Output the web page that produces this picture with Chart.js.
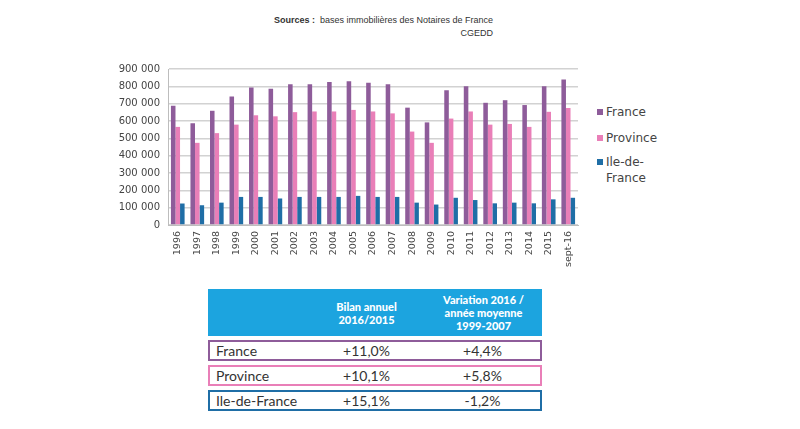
<!DOCTYPE html>
<html><head><meta charset="utf-8">
<script src="https://cdn.jsdelivr.net/npm/chart.js@4/dist/chart.umd.min.js"></script>
<style>
html,body{margin:0;padding:0;background:#fff;}
#wrap{position:relative;width:800px;height:429px;overflow:hidden;font-family:"Liberation Sans",Arial,sans-serif;}
#src{position:absolute;left:250px;top:14px;width:243px;text-align:right;font-size:9px;color:#333;line-height:13px;}
#cv{position:absolute;left:108px;top:55px;}
.lg{position:absolute;left:597px;font-family:"DejaVu Sans",Verdana,sans-serif;font-size:12px;color:#444;line-height:16px;}
.lg i{display:inline-block;width:6px;height:6px;margin-right:3px;vertical-align:1px;}
table{position:absolute;left:208px;top:285px;width:334px;border-collapse:separate;border-spacing:0 4px;font-family:Lato,"Open Sans",sans-serif;}
</style></head><body>
<div id="wrap">
  <div id="src"><b>Sources :</b>&nbsp; bases immobilières des Notaires de France<br>CGEDD</div>
  <canvas id="cv" width="475" height="220"></canvas>
  <div id="legend"></div>
  <div id="tbl"></div>
</div>
<script>
const categories = ["1996","1997","1998","1999","2000","2001","2002","2003","2004","2005","2006","2007","2008","2009","2010","2011","2012","2013","2014","2015","sept-16"];
const france   = [688000,587000,659000,742000,793000,786000,812000,812000,825000,830000,821000,812000,677000,592000,777000,801000,705000,720000,692000,801000,839000];
const province = [566000,474000,530000,579000,633000,627000,651000,655000,655000,664000,655000,644000,539000,474000,614000,655000,579000,583000,566000,653000,675000];
const ileDeFrance = [124000,114000,129000,162000,162000,153000,162000,162000,162000,168000,162000,162000,129000,118000,157000,144000,125000,129000,125000,148000,157000];
const seriesNames = ["France","Province","Ile-de-France"];
const tableHeaders = ["", "Bilan annuel\n2016/2015", "Variation 2016 /\nannée moyenne\n1999-2007"];
const bilanAnnuel = ["+11,0%","+10,1%","+15,1%"];
const variation = ["+4,4%","+5,8%","-1,2%"];

const colors = ["#8e5c9a","#e97fb8","#1f6ea6"];

new Chart(document.getElementById('cv'), {
  type: 'bar',
  data: {
    labels: categories,
    datasets: [
      {label: seriesNames[0], data: france, backgroundColor: colors[0]},
      {label: seriesNames[1], data: province, backgroundColor: colors[1]},
      {label: seriesNames[2], data: ileDeFrance, backgroundColor: colors[2]}
    ]
  },
  options: {
    responsive: false,
    animation: false,
    layout: {padding: {top: 7, right: 5, left: 0, bottom: 0}},
    datasets: {bar: {categoryPercentage: 0.7, barPercentage: 1.0}},
    plugins: {legend: {display: false}, tooltip: {enabled: false}},
    scales: {
      x: {
        afterFit: s => { s.height = 50; },
        grid: {display: false, drawTicks: true, tickLength: 4},
        border: {color: '#bdbdbd'},
        ticks: {minRotation: 90, maxRotation: 90, color: '#444', font: {family: '"DejaVu Sans", Verdana, sans-serif', size: 9.5}, padding: 2}
      },
      y: {
        min: 0, max: 900000,
        afterFit: s => { s.width = 60; },
        grid: {color: '#d2d2d2', lineWidth: 1.5, drawTicks: false},
        border: {display: true, color: '#bdbdbd'},
        ticks: {stepSize: 100000, color: '#444', padding: 8,
          font: {family: '"DejaVu Sans", Verdana, sans-serif', size: 10},
          callback: v => v === 0 ? '0' : String(v).replace(/\B(?=(\d{3})+(?!\d))/g, ' ')}
      }
    }
  }
});

// legend
const lg = document.getElementById('legend');
const lgTops = [104, 130, 154];
seriesNames.forEach((n, i) => {
  const d = document.createElement('div');
  d.className = 'lg';
  d.style.top = lgTops[i] + 'px';
  const txt = n === 'Ile-de-France' ? 'Ile-de-<br><span style="margin-left:9px">France</span>' : n;
  d.innerHTML = '<i style="background:' + colors[i] + '"></i>' + txt;
  lg.appendChild(d);
});

// table
const rowColors = ["#8e5c9a","#e97fb8","#1f6ea6"];
let h = '<table><tr style="background:#1ca4df;color:#fff;font-weight:900;font-size:11px;text-align:center;line-height:13px;">';
tableHeaders.forEach((t, i) => {
  h += '<td style="height:47px;width:' + (i === 0 ? 100 : 117) + 'px;padding:0;vertical-align:middle;">' + t.replace(/\n/g, '<br>') + '</td>';
});
h += '</tr>';
seriesNames.forEach((n, i) => {
  const b = '2.5px solid ' + rowColors[i];
  h += '<tr style="font-size:14px;color:#333;">' +
    '<td style="height:16px;border:' + b + ';border-right:none;padding:0 0 0 6px;">' + n + '</td>' +
    '<td style="border-top:' + b + ';border-bottom:' + b + ';text-align:center;padding:0;">' + bilanAnnuel[i] + '</td>' +
    '<td style="border:' + b + ';border-left:none;text-align:center;padding:0;">' + variation[i] + '</td></tr>';
});
h += '</table>';
document.getElementById('tbl').innerHTML = h;
</script>
</body></html>
